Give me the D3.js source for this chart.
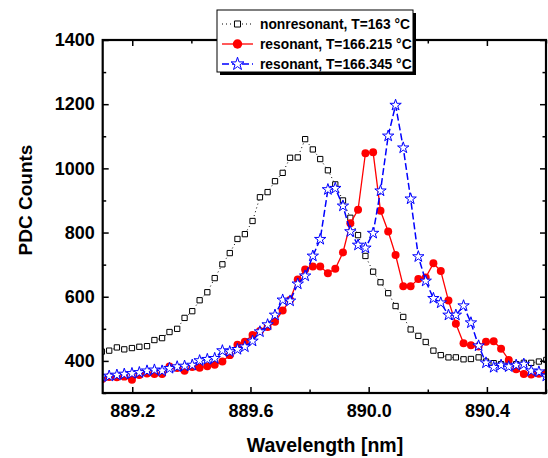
<!DOCTYPE html>
<html>
<head>
<meta charset="utf-8">
<script src="https://cdn.jsdelivr.net/npm/d3@7"></script>
<style>
  body { margin: 0; background: #fff; }
  svg { display: block; font-family: "Liberation Sans", Arial, sans-serif; font-weight: bold; }
</style>
</head>
<body>
<div id="chart"></div>
<script>
// --- data ---
const wavelength = [
  889.097, 889.122, 889.148, 889.173, 889.199, 889.224, 889.250, 889.275, 889.301, 889.326,
  889.352, 889.377, 889.403, 889.428, 889.454, 889.479, 889.505, 889.530, 889.556, 889.581,
  889.607, 889.632, 889.658, 889.683, 889.709, 889.734, 889.760, 889.785, 889.811, 889.836,
  889.862, 889.887, 889.913, 889.938, 889.964, 889.989, 890.015, 890.040, 890.066, 890.091,
  890.117, 890.142, 890.168, 890.193, 890.219, 890.244, 890.270, 890.295, 890.321, 890.346,
  890.372, 890.397, 890.423, 890.448, 890.474, 890.499, 890.525, 890.550, 890.576, 890.601
];

const nonresonant = [
  429, 432, 442, 436, 440, 444, 446, 465, 471, 490,
  500, 534, 555, 589, 614, 658, 701, 736, 780, 795,
  836, 910, 926, 960, 986, 1033, 1034, 1091, 1059, 1029,
  994, 950, 900, 846, 792, 727, 678, 645, 611, 571,
  537, 498, 478, 459, 432, 418, 411, 411, 405, 406,
  411, 398, 393, 390, 393, 390, 394, 394, 398, 403
];

const resonant215 = [
  343, 350, 349, 351, 341, 356, 361, 359, 359, 383,
  378, 369, 381, 379, 383, 388, 398, 418, 450, 460,
  481, 493, 506, 522, 557, 590, 654, 685, 694, 694,
  673, 687, 738, 829, 871, 1047, 1050, 868, 803, 730,
  633, 633, 655, 660, 704, 680, 588, 516, 455, 449,
  445, 460, 461, 438, 403, 374, 359, 358, 360, 362
];

const resonant345 = [
  351, 353, 356, 359, 361, 364, 369, 372, 369, 377,
  382, 384, 387, 401, 405, 408, 432, 429, 436, 444,
  462, 491, 513, 543, 590, 587, 640, 665, 727, 779,
  934, 938, 883, 803, 761, 752, 798, 930, 1101, 1197,
  1064, 905, 725, 649, 595, 581, 543, 543, 572, 519,
  447, 394, 380, 387, 382, 387, 390, 369, 366, 353
];

const seriesLabels = [
  "nonresonant, T=163 \u00B0C",
  "resonant, T=166.215 \u00B0C",
  "resonant, T=166.345 \u00B0C"
];

const xMajor = [889.2, 889.6, 890.0, 890.4];
const xMinor = [889.2, 889.4, 889.6, 889.8, 890.0, 890.2, 890.4, 890.6];
const yMajor = [400, 600, 800, 1000, 1200, 1400];
const yMinor = [300, 400, 500, 600, 700, 800, 900, 1000, 1100, 1200, 1300, 1400];

// --- layout ---
const W = 548, H = 458;
const pLeft = 102.7, pRight = 546, pTop = 40, pBottom = 393;

const svg = d3.select("#chart").append("svg")
  .attr("width", W)
  .attr("height", H);

const x = d3.scaleLinear().domain([889.1, 890.6]).range([pLeft, pRight]);
const y = d3.scaleLinear().domain([300, 1400]).range([pBottom, pTop]);

svg.append("clipPath").attr("id", "plotclip")
  .append("rect")
  .attr("x", pLeft).attr("y", pTop)
  .attr("width", pRight - pLeft).attr("height", pBottom - pTop);

const plot = svg.append("g").attr("clip-path", "url(#plotclip)");

const series = [
  { values: nonresonant, color: "#000", dash: "1,3", width: 1, symbol: d3.symbolSquare, size: 28, fill: "#fff", mstroke: 1 },
  { values: resonant215, color: "#ff0000", dash: null, width: 1.3, symbol: d3.symbolCircle, size: 50, fill: "#ff0000", mstroke: 0 },
  { values: resonant345, color: "#0000ff", dash: "7,3", width: 1.5, symbol: d3.symbolStar, size: 40, fill: "#fff", mstroke: 1 }
];

const line = d3.line()
  .x((d, i) => x(wavelength[i]))
  .y(d => y(d));

series.forEach(s => {
  plot.append("path")
    .datum(s.values)
    .attr("d", line)
    .attr("fill", "none")
    .attr("stroke", s.color)
    .attr("stroke-width", s.width)
    .attr("stroke-dasharray", s.dash);

  plot.append("g")
    .selectAll("path")
    .data(s.values)
    .join("path")
    .attr("transform", (d, i) => `translate(${x(wavelength[i])},${y(d)})`)
    .attr("d", d3.symbol(s.symbol, s.size))
    .attr("fill", s.fill)
    .attr("stroke", s.mstroke ? s.color : "none")
    .attr("stroke-width", s.mstroke);
});

// --- axes (ticks point inward) ---
function styleAxis(g) {
  g.select(".domain").remove();
  g.selectAll(".tick line").attr("stroke", "#000").attr("stroke-width", 1.5);
  g.selectAll("text").attr("fill", "#000").attr("font-size", "18px").attr("font-weight", "bold");
}

const minorX = xMinor.filter(v => !xMajor.includes(v));
const minorY = yMinor.filter(v => !yMajor.includes(v));

// major ticks with labels
svg.append("g")
  .attr("transform", `translate(0,${pBottom})`)
  .call(d3.axisBottom(x).tickValues(xMajor).tickFormat(d3.format(".1f")).tickSize(-6).tickPadding(11))
  .call(styleAxis);

svg.append("g")
  .attr("transform", `translate(${pLeft},0)`)
  .call(d3.axisLeft(y).tickValues(yMajor).tickFormat(d3.format("d")).tickSize(-6).tickPadding(8))
  .call(styleAxis);

// minor ticks + mirrored ticks
svg.append("g").attr("transform", `translate(0,${pBottom})`)
  .call(d3.axisBottom(x).tickValues(minorX).tickFormat("").tickSize(-3.5)).call(styleAxis);
svg.append("g").attr("transform", `translate(${pLeft},0)`)
  .call(d3.axisLeft(y).tickValues(minorY).tickFormat("").tickSize(-3.5)).call(styleAxis);
svg.append("g").attr("transform", `translate(0,${pTop})`)
  .call(d3.axisTop(x).tickValues(xMajor).tickFormat("").tickSize(-6)).call(styleAxis);
svg.append("g").attr("transform", `translate(0,${pTop})`)
  .call(d3.axisTop(x).tickValues(minorX).tickFormat("").tickSize(-3.5)).call(styleAxis);
svg.append("g").attr("transform", `translate(${pRight},0)`)
  .call(d3.axisRight(y).tickValues(yMajor).tickFormat("").tickSize(-6)).call(styleAxis);
svg.append("g").attr("transform", `translate(${pRight},0)`)
  .call(d3.axisRight(y).tickValues(minorY).tickFormat("").tickSize(-3.5)).call(styleAxis);

// frame
svg.append("rect")
  .attr("x", pLeft).attr("y", pTop)
  .attr("width", pRight - pLeft).attr("height", pBottom - pTop)
  .attr("fill", "none")
  .attr("stroke", "#000")
  .attr("stroke-width", 2.2);

// axis titles
svg.append("text")
  .attr("x", 325).attr("y", 452)
  .attr("text-anchor", "middle")
  .attr("font-size", "19.5px")
  .text("Wavelength [nm]");

svg.append("text")
  .attr("transform", "translate(32,200) rotate(-90)")
  .attr("text-anchor", "middle")
  .attr("font-size", "19px")
  .text("PDC Counts");

// --- legend ---
const legend = svg.append("g");
legend.append("rect")
  .attr("x", 220).attr("y", 13).attr("width", 196).attr("height", 62)
  .attr("fill", "#000");
legend.append("rect")
  .attr("x", 217).attr("y", 10).attr("width", 196).attr("height", 62)
  .attr("fill", "#fff").attr("stroke", "#000").attr("stroke-width", 1);

const rowY = [24, 44, 64];
series.forEach((s, i) => {
  legend.append("line")
    .attr("x1", 222).attr("x2", 253)
    .attr("y1", rowY[i]).attr("y2", rowY[i])
    .attr("stroke", s.color)
    .attr("stroke-width", s.width)
    .attr("stroke-dasharray", s.dash);
  legend.append("path")
    .attr("transform", `translate(237.5,${rowY[i]})`)
    .attr("d", d3.symbol(s.symbol, i === 1 ? 70 : s.size * 1.3))
    .attr("fill", s.fill)
    .attr("stroke", s.mstroke ? s.color : "none")
    .attr("stroke-width", s.mstroke);
  legend.append("text")
    .attr("x", 260).attr("y", rowY[i] + 5)
    .attr("font-size", "13.8px")
    .text(seriesLabels[i]);
});
</script>
</body>
</html>
